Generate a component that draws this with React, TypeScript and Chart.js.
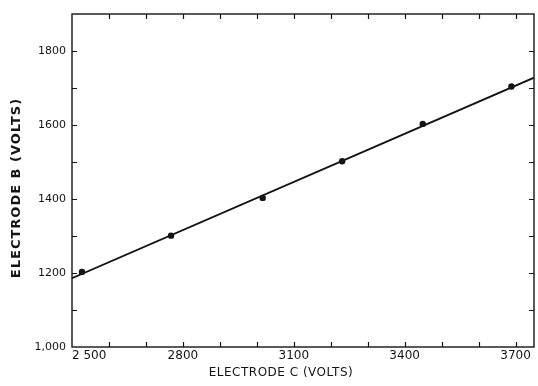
import React, { useEffect, useRef } from "react";
import { Chart, registerables } from "chart.js";

Chart.register(...registerables);

// Measured points
const electrodeC = [2527, 2768, 3016, 3231, 3449, 3689];
const electrodeB = [1203, 1301, 1403, 1502, 1603, 1704];

// Fitted straight line (end points)
const fitC = [2500, 3750];
const fitB = [1186, 1728];

// Axes
const xMin = 2500;
const xMax = 3750;
const xTickValues = [2500, 2600, 2700, 2800, 2900, 3000, 3100, 3200, 3300, 3400, 3500, 3600, 3700, 3750];
const xTickLabels: Record<number, string> = { 2500: "2 500", 2800: "2800", 3100: "3100", 3400: "3400", 3700: "3700" };
const yMin = 1000;
const yMax = 1900;
const yTickValues = [1000, 1100, 1200, 1300, 1400, 1500, 1600, 1700, 1800];
const yTickLabels: Record<number, string> = { 1000: "1,000", 1200: "1200", 1400: "1400", 1600: "1600", 1800: "1800" };

const xTitle = "ELECTRODE C (VOLTS)";
const yTitle = "ELECTRODE B (VOLTS)";

const INK = "#141414";

const framePlugin = {
  id: "frame",
  afterDraw(chart: any) {
    const { ctx, chartArea } = chart;
    const { left, right, top, bottom } = chartArea;
    const xs = chart.scales.x;
    const ys = chart.scales.y;
    ctx.save();
    ctx.strokeStyle = INK;
    ctx.lineWidth = 1.4;
    ctx.strokeRect(left, top, right - left, bottom - top);
    ctx.lineWidth = 1.2;
    const tl = 5;
    xs.ticks.forEach((t: any) => {
      if (t.value <= xMin || t.value >= xMax) return;
      const px = Math.round(xs.getPixelForValue(t.value)) + 0.5;
      ctx.beginPath();
      ctx.moveTo(px, bottom);
      ctx.lineTo(px, bottom - tl);
      ctx.moveTo(px, top);
      ctx.lineTo(px, top + tl);
      ctx.stroke();
    });
    ys.ticks.forEach((t: any) => {
      if (t.value <= yMin || t.value >= yMax) return;
      const py = Math.round(ys.getPixelForValue(t.value)) + 0.5;
      ctx.beginPath();
      ctx.moveTo(left, py);
      ctx.lineTo(left + tl, py);
      ctx.moveTo(right, py);
      ctx.lineTo(right - tl, py);
      ctx.stroke();
    });
    // axis titles
    ctx.fillStyle = INK;
    ctx.textAlign = "center";
    ctx.textBaseline = "middle";
    ctx.font = "12px 'DejaVu Sans'";
    (ctx as any).letterSpacing = "0.5px";
    ctx.fillText(xTitle, 281, 373);
    ctx.save();
    ctx.translate(17, 188);
    ctx.rotate(-Math.PI / 2);
    ctx.font = "bold 13px 'DejaVu Sans'";
    (ctx as any).letterSpacing = "1px";
    ctx.fillText(yTitle, 0, 0);
    ctx.restore();
    (ctx as any).letterSpacing = "0px";
    ctx.restore();
  },
};

export default function App() {
  const ref = useRef<HTMLCanvasElement>(null);
  useEffect(() => {
    if (!ref.current) return;
    const chart = new Chart(ref.current, {
      type: "scatter",
      data: {
        datasets: [
          {
            label: "fit",
            data: fitC.map((c, i) => ({ x: c, y: fitB[i] })),
            showLine: true,
            pointRadius: 0,
            borderColor: INK,
            borderWidth: 1.9,
          },
          {
            label: "measured",
            data: electrodeC.map((c, i) => ({ x: c, y: electrodeB[i] })),
            pointRadius: 3.2,
            backgroundColor: INK,
            borderColor: INK,
            borderWidth: 0,
          },
        ],
      },
      options: {
        responsive: false,
        animation: false,
        layout: { padding: { top: 14, right: 3, left: 0, bottom: 0 } },
        plugins: { legend: { display: false }, tooltip: { enabled: false } },
        scales: {
          x: {
            type: "linear",
            min: xMin,
            max: xMax,
            afterBuildTicks: (s: any) => {
              s.ticks = xTickValues.map((v) => ({ value: v }));
            },
            afterFit: (s: any) => {
              s.height = 39;
            },
            grid: { display: false, drawTicks: false },
            border: { display: false },
            ticks: {
              autoSkip: false,
              maxRotation: 0,
              align: "inner",
              padding: 2,
              color: INK,
              font: { family: "'DejaVu Sans'", size: 12 },
              callback: (v: any) => xTickLabels[v as number] ?? "",
            },
          },
          y: {
            type: "linear",
            min: yMin,
            max: yMax,
            afterBuildTicks: (s: any) => {
              s.ticks = yTickValues.map((v) => ({ value: v }));
            },
            afterFit: (s: any) => {
              s.width = 72;
            },
            grid: { display: false, drawTicks: false },
            border: { display: false },
            ticks: {
              autoSkip: false,
              padding: 6,
              color: INK,
              font: { family: "'DejaVu Sans'", size: 11 },
              callback: (v: any) => yTickLabels[v as number] ?? "",
            },
          },
        },
      },
      plugins: [framePlugin],
    });
    return () => chart.destroy();
  }, []);
  return (
    <div style={{ position: "fixed", left: 0, top: 0, width: 538, height: 386, background: "#fff" }}>
      <canvas ref={ref} width={538} height={386} />
    </div>
  );
}
